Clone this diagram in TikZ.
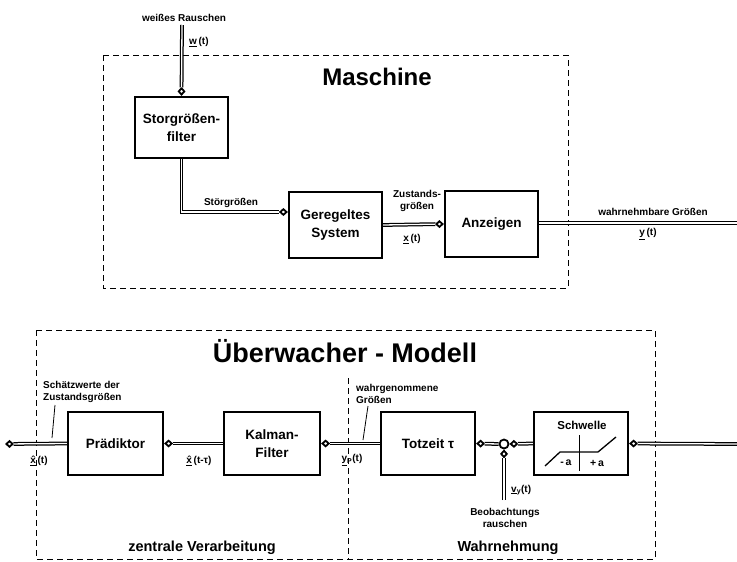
\documentclass[tikz,border=0pt]{standalone}
\usepackage{fontspec}
\setmainfont{Liberation Sans}
\usetikzlibrary{arrows.meta}
\newcommand\myxhat{\ooalign{x\cr\hfil ˆ\hfil\cr}}
\begin{document}
\begin{tikzpicture}[x=1pt,y=-1pt,
  blk/.style={draw, line width=2.2pt, inner sep=2pt, align=center, font=\bfseries\fontsize{13.5}{18}\selectfont},
  frame/.style={line width=0.9pt, dash pattern=on 6pt off 4pt},
  dbl/.style={line width=3.8pt, postaction={draw=white, line width=1.3pt}},
  conn/.style={preaction={draw, line width=0.2pt, shorten >=0pt, -{Diamond[open,length=9pt,width=8pt,line width=1.8pt]}},
               line width=3.8pt, shorten >=8.5pt, postaction={draw=white, line width=1.3pt}},
  lbl/.style={font=\bfseries\fontsize{10}{11.5}\selectfont, inner sep=0pt, align=center},
  ttl/.style={font=\bfseries\fontsize{24}{26}\selectfont, inner sep=0pt},
  sec/.style={font=\bfseries\fontsize{14.5}{16}\selectfont, inner sep=0pt},
  lead/.style={line width=0.8pt}
]
\useasboundingbox (0,0) rectangle (737,562);

% frames
\draw[frame] (103,55) rectangle (568,288);
\draw[frame] (36,330) rectangle (655,559);
\draw[frame] (348,378) -- (348,559);

% titles
\node[ttl] (tmasch) at (377,77) {Maschine};
\node[ttl,font=\bfseries\fontsize{27}{29}\selectfont] (tueber) at (345,351) {Überwacher - Modell};
\node[sec] (tzentral) at (202,548) {zentrale Verarbeitung};
\node[sec] (twahr) at (508,548) {Wahrnehmung};

% upper blocks
\node[blk, minimum width=93pt, minimum height=61pt] (stoer) at (181.5,127.5) {Storgrößen-\\filter};
\node[blk, minimum width=93pt, minimum height=66pt] (geregelt) at (335.5,225) {Geregeltes\\System};
\node[blk, minimum width=93pt, minimum height=66pt] (anzeig) at (491.5,224) {Anzeigen};

% lower blocks
\node[blk, minimum width=95pt, minimum height=63pt] (praed) at (115.5,443.5) {Prädiktor};
\node[blk, minimum width=96pt, minimum height=63pt] (kalman) at (272,443.5) {Kalman-\\Filter};
\node[blk, minimum width=94pt, minimum height=63pt] (totzeit) at (428,443.5) {Totzeit τ};
\node[blk, minimum width=94pt, minimum height=63pt] (schwelle) at (581,443.5) {};
\node[circle, draw, line width=1.8pt, minimum size=9pt, inner sep=0pt] (sum) at (504,444) {};

% Schwelle content
\node[lbl, font=\bfseries\fontsize{11.5}{12}\selectfont] (schwtxt) at (582,425) {Schwelle};
\draw[line width=1pt] (579,435) -- (579,471);
\draw[line width=1.3pt] (545,466) -- (560,452) -- (598,452) -- (616,437);
\node[lbl, font=\bfseries\fontsize{10.5}{11}\selectfont] (mina) at (566,463) {-\,a};
\node[lbl, font=\bfseries\fontsize{10.5}{11}\selectfont] (plusa) at (597,463) {+\,a};

% coordinates
\coordinate (win) at (182,25);
\coordinate (yout) at (737,223);
\coordinate (rin) at (737,444);
\coordinate (lout) at (5,444);
\coordinate (nz) at (504,500);

% upper connectors
\draw[conn] (win) -- (stoer.north);
\draw[conn] (stoer.south) |- ([yshift=13pt]geregelt.west);
\draw[conn] (geregelt.east) -- (anzeig.west);
\draw[dbl] ([yshift=1pt]anzeig.east) -- (yout);

% lower connectors
\draw[conn] (rin) -- (schwelle.east);
\draw[conn] (schwelle.west) -- (sum.east);
\draw[conn] (sum.west) -- (totzeit.east);
\draw[conn] (nz) -- (sum.south);
\draw[conn] (totzeit.west) -- (kalman.east);
\draw[conn] (kalman.west) -- (praed.east);
\draw[conn] (praed.west) -- (lout);

% upper labels
\node[lbl] (weiss) at (184,18) {weißes Rauschen};
\node[lbl, anchor=west] (wlab) at (189,42) {\underline{w}\,(t)};
\node[lbl] (stlbl) at (231,203) {Störgrößen};
\node[lbl] (zust) at (417,201) {Zustands-\\größen};
\node[lbl] (xlab) at (412,239) {\underline{x}\,(t)};
\node[lbl] (wahrnb) at (653,212) {wahrnehmbare Größen};
\node[lbl] (ylab) at (648,234) {\underline{y}\,(t)};

% lower labels
\node[lbl, anchor=west, align=left] (schaetz) at (43,392) {Schätzwerte der\\Zustandsgrößen};
\coordinate (l1a) at (55,405);
\coordinate (l1b) at (52,438);
\draw[lead] (l1a) -- (l1b);
\node[lbl] (xhat) at (39,461) {\underline{\myxhat}\,(t)};
\node[lbl] (xhattau) at (199,461) {\underline{\myxhat}\,(t-τ)};
\node[lbl, anchor=west, align=left] (wahrg) at (356,394) {wahrgenommene\\Größen};
\coordinate (l2a) at (368,406);
\coordinate (l2b) at (363,440);
\draw[lead] (l2a) -- (l2b);
\node[lbl] (yp) at (352,460) {\underline{y}\textsubscript{P}(t)};
\node[lbl, anchor=west] (vy) at (511,490) {\underline{v}\textsubscript{y}(t)};
\node[lbl] (beob) at (505,518) {Beobachtungs\\rauschen};
\end{tikzpicture}
\end{document}
